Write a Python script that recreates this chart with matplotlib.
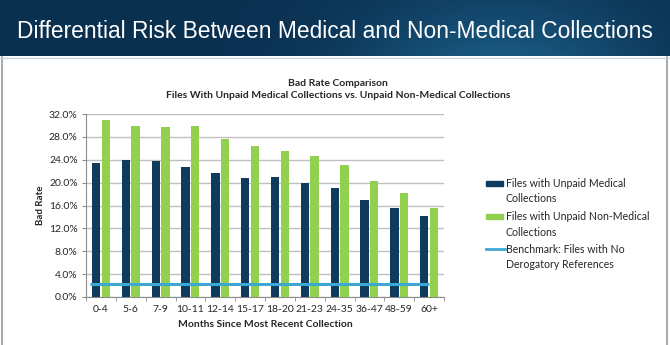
import numpy as np
import matplotlib
matplotlib.use("Agg")
import matplotlib.pyplot as plt
from matplotlib.patches import Rectangle
from matplotlib.lines import Line2D
from matplotlib.colors import LinearSegmentedColormap

# --- DATA ---
months = ["0-4", "5-6", "7-9", "10-11", "12-14", "15-17", "18-20",
          "21-23", "24-35", "36-47", "48-59", "60+"]
medical = [23.4, 24.0, 23.7, 22.7, 21.7, 20.8, 20.9, 20.0, 19.1, 17.0, 15.6, 14.2]
non_medical = [30.9, 29.9, 29.8, 29.9, 27.7, 26.4, 25.6, 24.6, 23.1, 20.3, 18.1, 15.5]
benchmark = 2.3
yticks = [0, 4, 8, 12, 16, 20, 24, 28, 32]

header_title = "Differential Risk Between Medical and Non-Medical Collections"
chart_title = "Bad Rate Comparison\nFiles With Unpaid Medical Collections vs. Unpaid Non-Medical Collections"
labels = ["Files with Unpaid Medical\nCollections",
          "Files with Unpaid Non-Medical\nCollections",
          "Benchmark: Files with No\nDerogatory References"]

# --- COLOURS ---
c_med = "#0f3b5c"
c_non = "#92d050"
c_bench = "#3ea8d4"
txt = "#262626"

plt.rcParams['font.family'] = ['Lato', 'DejaVu Sans']

fig = plt.figure(figsize=(6.7, 3.45), dpi=100)
fig.patch.set_facecolor("white")

# header banner with a soft gradient
hdr = fig.add_axes([0, 1 - 56 / 345, 1, 56 / 345])
gx, gy = np.meshgrid(np.linspace(0, 1, 256), np.linspace(0, 1, 20))
shade = 0.6 + 0.4 * np.exp(-((gx - 0.75) ** 2) / 0.05) * (0.5 + 0.5 * gy)
cmap = LinearSegmentedColormap.from_list("hdr", ["#0a3050", "#19577f"])
hdr.imshow(shade, aspect="auto", cmap=cmap, vmin=0.6, vmax=1.0, extent=[0, 1, 0, 1])
hdr.set_xlim(0, 1)
hdr.set_ylim(0, 1)
hdr.axis("off")
hdr.text(0.5, 0.44, header_title, ha="center", va="center", color="white",
         fontsize=16.4, family=["Liberation Sans", "DejaVu Sans"])

# slide frame lines
fig.add_artist(Line2D([2 / 670, 2 / 670], [0, 1 - 57 / 345], color="#9a9a9a", lw=1.2))
fig.add_artist(Line2D([667 / 670, 667 / 670], [0, 1 - 57 / 345], color="#9a9a9a", lw=1.2))
fig.add_artist(Line2D([0, 1], [1 - 57.5 / 345] * 2, color="#c8d4de", lw=1))

# --- CHART ---
ax = fig.add_axes([86 / 670, 1 - 297 / 345, (444 - 86) / 670, (297 - 114) / 345])
x = np.arange(len(months))
w = 0.28
ax.bar(x - w / 2 - 0.02, medical, w, color=c_med, zorder=3)
ax.bar(x + w / 2 + 0.02, non_medical, w, color=c_non, zorder=3)
ax.hlines(benchmark, -0.35, len(months) - 1, color=c_bench, lw=2.2, zorder=4)

ax.set_xlim(-0.5, len(months) - 0.5)
ax.set_ylim(0, 32)
ax.set_yticks(yticks)
ax.set_yticklabels([f"{v:.1f}%" for v in yticks])
ax.set_xticks(x)
ax.set_xticklabels(months)
ax.set_xticks(np.arange(len(months) + 1) - 0.5, minor=True)
ax.tick_params(axis="x", which="major", length=0, pad=6, labelsize=7.5, colors=txt)
ax.tick_params(axis="x", which="minor", length=3, color="#8c8c8c")
ax.tick_params(axis="y", length=3, color="#8c8c8c", labelsize=7.5, colors=txt, pad=3)
ax.grid(axis="y", color="#bfbfbf", lw=1, zorder=0)
for s in ["top", "right"]:
    ax.spines[s].set_visible(False)
for s in ["left", "bottom"]:
    ax.spines[s].set_color("#8c8c8c")

ax.set_ylabel("Bad Rate", fontsize=7, fontweight="bold", color=txt, labelpad=3)
ax.set_xlabel("Months Since Most Recent Collection", fontsize=7.5,
              fontweight="bold", color=txt, labelpad=4)

fig.text(338 / 670, 1 - 89.5 / 345, chart_title, ha="center", va="center",
         fontsize=7.5, fontweight="bold", color=txt, linespacing=1.55)

# legend, handle aligned with the first text line as in the original
leg_y = [183, 216, 249]
for i, (lab, yy) in enumerate(zip(labels, leg_y)):
    yf = 1 - yy / 345
    if i < 2:
        fig.add_artist(Rectangle((486 / 670, yf - 2.5 / 345), 17 / 670, 5 / 345,
                                 transform=fig.transFigure,
                                 color=[c_med, c_non][i]))
    else:
        fig.add_artist(Line2D([486 / 670, 505 / 670], [yf, yf], color=c_bench, lw=2))
    fig.text(506 / 670, 1 - (yy - 5) / 345, lab, ha="left", va="top",
             fontsize=7.6, color=txt, linespacing=1.5)

fig.savefig("out.png", dpi=100)
